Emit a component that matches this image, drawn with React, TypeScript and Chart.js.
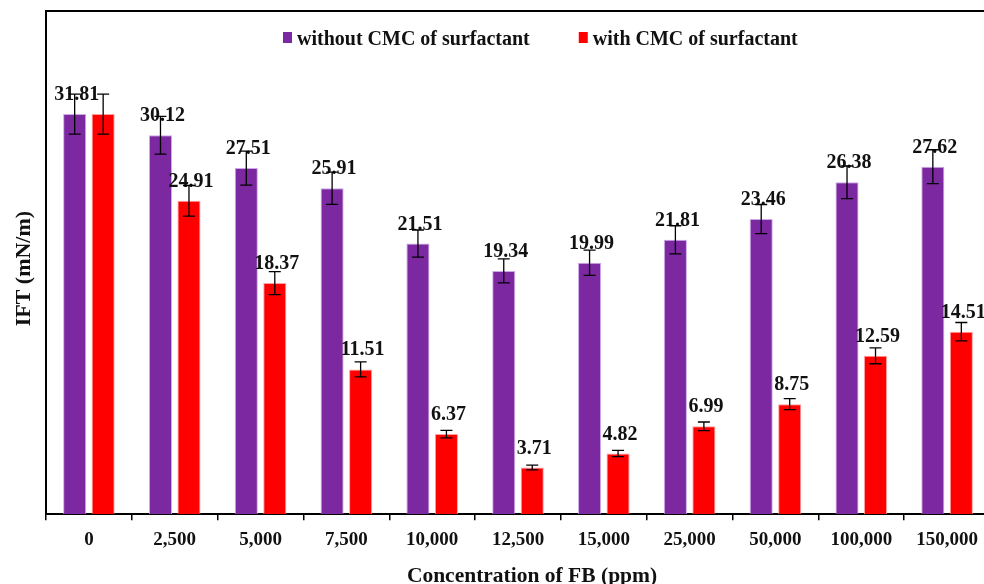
import React, { useEffect, useRef } from "react";
import { Chart, registerables } from "chart.js";

Chart.register(...registerables);

// FB concentrations (ppm)
const categories = [
  "0", "2,500", "5,000", "7,500", "10,000", "12,500",
  "15,000", "25,000", "50,000", "100,000", "150,000",
];

// IFT (mN/m) without surfactant at CMC
const withoutCmc = [31.81, 30.12, 27.51, 25.91, 21.51, 19.34, 19.99, 21.81, 23.46, 26.38, 27.62];
const withoutCmcErr = [1.59, 1.5, 1.35, 1.28, 1.08, 0.95, 1.0, 1.12, 1.16, 1.3, 1.35];

// IFT (mN/m) with surfactant at CMC
const withCmc = [31.81, 24.91, 18.37, 11.51, 6.37, 3.71, 4.82, 6.99, 8.75, 12.59, 14.51];
const withCmcErr = [1.59, 1.22, 0.92, 0.6, 0.3, 0.19, 0.25, 0.34, 0.44, 0.63, 0.73];

const seriesLabels = ["without CMC of surfactant", "with CMC of surfactant"];
const xTitle = "Concentration of FB (ppm)";
const yTitle = "IFT (mN/m)";
const PURPLE = "rgb(124,40,160)";
const RED = "rgb(255,0,0)";
const FONT = "'Liberation Serif', 'Times New Roman', serif";

const errors = [withoutCmcErr, withCmcErr];

// Value labels above each bar, then error bars on top of them
const barDecorations = {
  id: "barDecorations",
  afterDatasetsDraw(chart: any) {
    const { ctx, scales } = chart;
    const y = scales.y;
    const sets = chart.data.datasets;
    ctx.save();
    sets.forEach((ds: any, di: number) => {
      const meta = chart.getDatasetMeta(di);
      meta.data.forEach((bar: any, i: number) => {
        const v = ds.data[i];
        // a value equal to the first series is labelled only once
        if (di > 0 && sets[0].data[i] === v) return;
        ctx.font = `bold 20px ${FONT}`;
        ctx.fillStyle = "#111";
        ctx.textAlign = "center";
        ctx.textBaseline = "alphabetic";
        ctx.fillText(v.toFixed(2), bar.x + 2, bar.y - 14);
      });
    });
    sets.forEach((ds: any, di: number) => {
      const meta = chart.getDatasetMeta(di);
      meta.data.forEach((bar: any, i: number) => {
        const v = ds.data[i];
        const e = errors[di][i];
        const top = y.getPixelForValue(v + e);
        const bot = y.getPixelForValue(v - e);
        ctx.strokeStyle = "#000";
        ctx.lineWidth = 1.3;
        ctx.beginPath();
        ctx.moveTo(bar.x, top);
        ctx.lineTo(bar.x, bot);
        ctx.moveTo(bar.x - 6, top);
        ctx.lineTo(bar.x + 6, top);
        ctx.moveTo(bar.x - 6, bot);
        ctx.lineTo(bar.x + 6, bot);
        ctx.stroke();
      });
    });
    ctx.restore();
  },
};

// Frame top edge, axis titles and the in-plot legend
const frameAndText = {
  id: "frameAndText",
  afterDraw(chart: any) {
    const { ctx, chartArea, width } = chart;
    const midX = (chartArea.left + chartArea.right) / 2;
    const midY = (chartArea.top + chartArea.bottom) / 2;
    ctx.save();
    ctx.strokeStyle = "#000";
    ctx.lineWidth = 2;
    ctx.beginPath();
    ctx.moveTo(chartArea.left, chartArea.top);
    ctx.lineTo(width, chartArea.top);
    ctx.stroke();

    // x-axis title
    ctx.font = `bold 21.5px ${FONT}`;
    ctx.fillStyle = "#111";
    ctx.textAlign = "center";
    ctx.textBaseline = "alphabetic";
    ctx.fillText(xTitle, midX + 14, chartArea.bottom + 68);

    // y-axis title
    ctx.translate(chartArea.left - 22, midY + 6);
    ctx.rotate(-Math.PI / 2);
    ctx.font = `bold 22px ${FONT}`;
    ctx.textBaseline = "middle";
    ctx.fillText(yTitle, 0, 0);
    ctx.restore();

    // legend
    ctx.save();
    ctx.font = `bold 20px ${FONT}`;
    ctx.textBaseline = "alphabetic";
    ctx.textAlign = "left";
    const colors = [PURPLE, RED];
    let x = chartArea.left + 237;
    const baseY = chartArea.top + 34;
    seriesLabels.forEach((label, i) => {
      ctx.fillStyle = colors[i];
      ctx.fillRect(x, baseY - 13, 9, 11);
      ctx.fillStyle = "#111";
      ctx.fillText(label, x + 14, baseY);
      x += 14 + ctx.measureText(label).width + 49;
    });
    ctx.restore();
  },
};

export default function App() {
  const canvasRef = useRef<HTMLCanvasElement | null>(null);

  useEffect(() => {
    const canvas = canvasRef.current;
    if (!canvas) return;
    const chart = new Chart(canvas, {
      type: "bar",
      data: {
        labels: categories,
        datasets: [
          {
            label: seriesLabels[0],
            data: withoutCmc,
            backgroundColor: PURPLE,
            borderColor: "rgba(200,160,230,0.9)",
            borderWidth: 1,
            categoryPercentage: 0.664,
            barPercentage: 0.81,
          },
          {
            label: seriesLabels[1],
            data: withCmc,
            backgroundColor: RED,
            borderColor: "rgba(255,150,150,0.9)",
            borderWidth: 1,
            categoryPercentage: 0.664,
            barPercentage: 0.81,
          },
        ],
      },
      options: {
        responsive: false,
        animation: false,
        layout: { padding: { left: 46, top: 11, right: 10, bottom: 25 } },
        plugins: {
          legend: { display: false },
          tooltip: { enabled: false },
        },
        scales: {
          x: {
            grid: {
              display: true,
              drawOnChartArea: false,
              drawTicks: true,
              tickLength: 6,
              color: "#000",
              lineWidth: 1.5,
            },
            border: { display: true, color: "#000", width: 2 },
            ticks: {
              color: "#111",
              padding: 8,
              font: { family: FONT, size: 19, weight: "bold" },
            },
          },
          y: {
            min: 0,
            max: 40,
            grid: { display: false, drawTicks: false },
            border: { display: true, color: "#000", width: 2 },
            ticks: { display: false },
          },
        },
      },
      plugins: [barDecorations, frameAndText],
    });
    return () => chart.destroy();
  }, []);

  return (
    <div
      style={{
        position: "fixed",
        left: 0,
        top: 0,
        width: 984,
        height: 584,
        overflow: "hidden",
        background: "#fff",
      }}
    >
      <canvas ref={canvasRef} width={1000} height={584} style={{ display: "block" }} />
    </div>
  );
}
